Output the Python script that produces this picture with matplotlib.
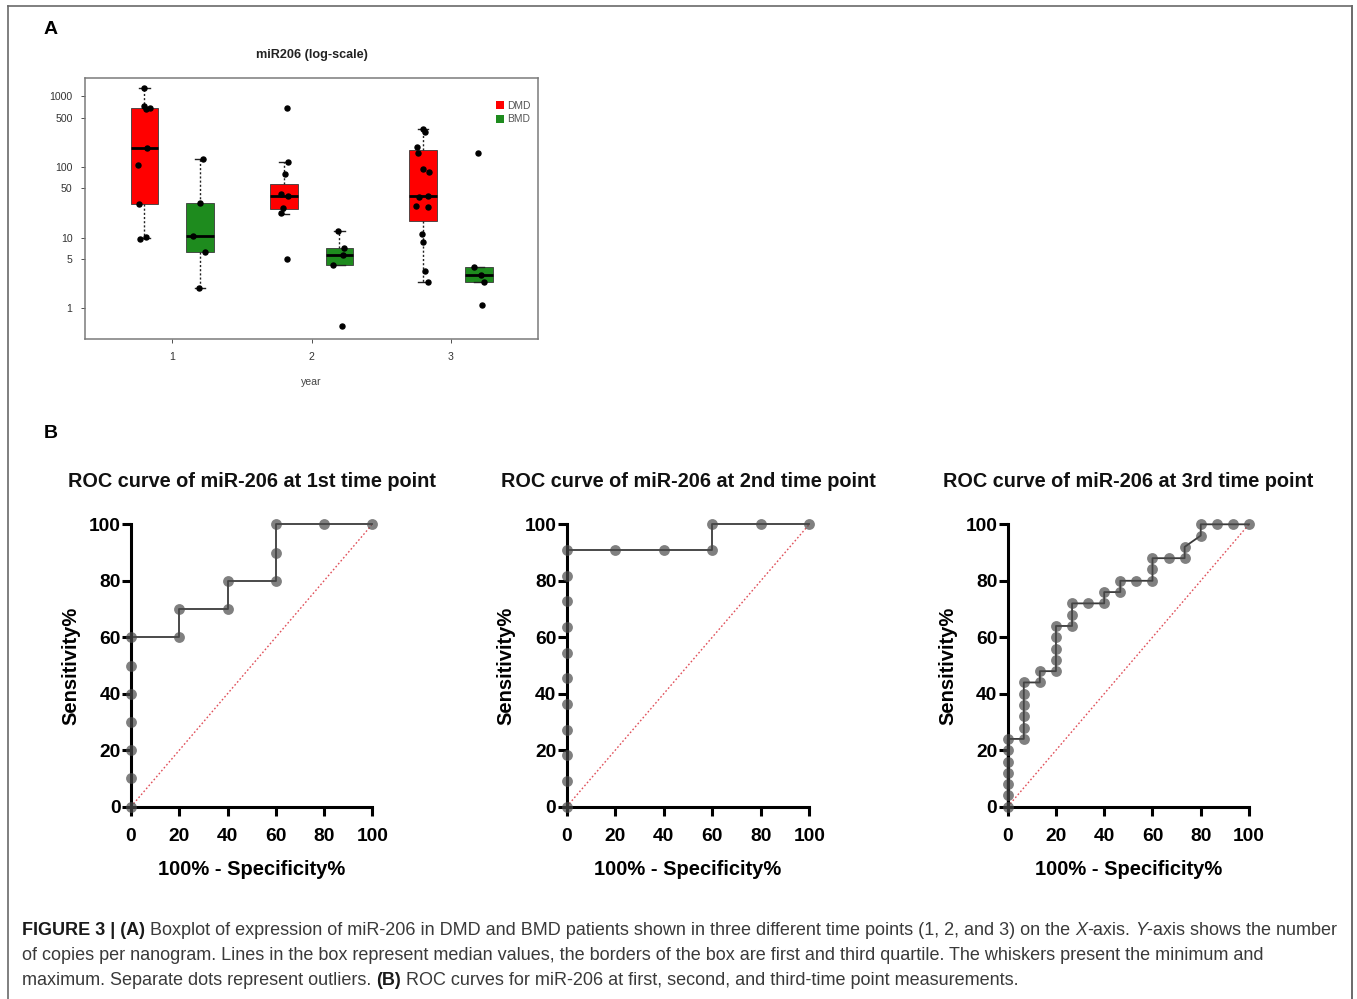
import matplotlib
matplotlib.use('Agg')
import matplotlib.pyplot as plt
from matplotlib.lines import Line2D
from matplotlib.patches import Patch

plt.rcParams['font.family'] = ['Liberation Sans', 'DejaVu Sans']

W, H = 1357, 999
fig = plt.figure(figsize=(W / 100, H / 100), dpi=100)

# ---------------- data: panel A (boxplot, log scale) ----------------
years = [1, 2, 3]
year_labels = ['1', '2', '3']
groups = ['DMD', 'BMD']
group_colors = ['#FF0000', '#1E8B1E']

dmd_q1 = [29.6, 25.5, 17.2]
dmd_med = [184, 38.9, 38.9]
dmd_q3 = [676, 57.5, 174]
dmd_whislo = [9.9, 21.6, 2.36]
dmd_whishi = [1327, 118, 345]

bmd_q1 = [6.34, 4.06, 2.38]
bmd_med = [10.4, 5.62, 2.93]
bmd_q3 = [31.3, 7.14, 3.89]
bmd_whislo = [1.96, 4.06, 2.38]
bmd_whishi = [128, 12.6, 3.89]

# individual measurements per year (values) and their horizontal jitter
dmd_pts = [
    [1327, 730, 662, 676, 184, 107, 29.6, 9.68, 10.2],
    [676, 118, 80.5, 41.1, 38.9, 26.6, 22.1, 4.99],
    [345, 309, 194, 160, 93.6, 85.9, 38.0, 39.3, 28.4, 27.5, 11.1, 8.8, 3.34, 2.36],
]
dmd_jit = [
    [0.0, -0.006, 0.008, 0.042, 0.018, -0.047, -0.037, -0.030, 0.008],
    [0.020, 0.028, 0.008, -0.018, 0.032, -0.008, -0.023, 0.020],
    [-0.002, 0.017, -0.045, -0.038, -0.002, 0.043, -0.029, 0.033, -0.050, 0.038,
     -0.007, -0.002, 0.017, 0.033],
]
bmd_pts = [
    [128, 31.3, 10.4, 6.27, 1.96],
    [12.6, 7.14, 5.62, 4.06, 0.562],
    [160, 3.89, 2.93, 2.38, 1.11],
]
bmd_jit = [
    [0.020, 0.001, -0.051, 0.032, -0.008],
    [-0.010, 0.033, 0.026, -0.045, 0.017],
    [-0.006, -0.037, 0.016, 0.039, 0.023],
]
log_ticks = [1, 5, 10, 50, 100, 500, 1000]

# ---------------- data: panel B (ROC curves) ----------------
roc_titles = ['ROC curve of miR-206 at 1st time point',
              'ROC curve of miR-206 at 2nd time point',
              'ROC curve of miR-206 at 3rd time point']
roc1_fpr = [0, 0, 0, 0, 0, 0, 0, 20, 20, 40, 40, 60, 60, 60, 80, 100]
roc1_tpr = [0, 10, 20, 30, 40, 50, 60, 60, 70, 70, 80, 80, 90, 100, 100, 100]
roc2_fpr = [0, 0, 0, 0, 0, 0, 0, 0, 0, 0, 0, 20, 40, 60, 60, 80, 100]
roc2_tpr = [0, 9.09, 18.18, 27.27, 36.36, 45.45, 54.55, 63.64, 72.73, 81.82, 90.91,
            90.91, 90.91, 90.91, 100, 100, 100]
roc3_fpr = [0, 0, 0, 0, 0, 0, 0, 6.67, 6.67, 6.67, 6.67, 6.67, 6.67, 13.33, 13.33,
            20, 20, 20, 20, 20, 26.67, 26.67, 26.67, 33.33, 40, 40, 46.67, 46.67,
            53.33, 60, 60, 60, 66.67, 73.33, 73.33, 80, 80, 86.67, 93.33, 100]
roc3_tpr = [0, 4, 8, 12, 16, 20, 24, 24, 28, 32, 36, 40, 44, 44, 48, 48, 52, 56, 60,
            64, 64, 68, 72, 72, 72, 76, 76, 80, 80, 80, 84, 88, 88, 88, 92, 96, 100,
            100, 100, 100]
roc_ticks = [0, 20, 40, 60, 80, 100]


def fx(px):
    return px / W


def fy(py):
    return 1 - py / H


# ---------------- outer frame ----------------
frame_c = '#6a6a6a'
fig.add_artist(Line2D([fx(8), fx(8)], [fy(6), 0], color=frame_c, lw=1.2))
fig.add_artist(Line2D([fx(8), fx(1352)], [fy(6), fy(6)], color=frame_c, lw=1.2))
fig.add_artist(Line2D([fx(1352), fx(1352)], [fy(6), 0], color=frame_c, lw=1.4))

# panel letters
fig.text(fx(51), fy(30), 'A', fontsize=14, fontweight='bold', ha='center', va='center')
fig.text(fx(51), fy(433), 'B', fontsize=14, fontweight='bold', ha='center', va='center')

# ---------------- panel A ----------------
axA = fig.add_axes([fx(85), fy(339), fx(538) - fx(85), fy(77.7) - fy(339)])
axA.set_yscale('log')
off = [-0.2, 0.2]
for gi, (q1, med, q3, lo, hi, pts, jit) in enumerate([
        (dmd_q1, dmd_med, dmd_q3, dmd_whislo, dmd_whishi, dmd_pts, dmd_jit),
        (bmd_q1, bmd_med, bmd_q3, bmd_whislo, bmd_whishi, bmd_pts, bmd_jit)]):
    stats = [dict(med=med[i], q1=q1[i], q3=q3[i], whislo=lo[i], whishi=hi[i], fliers=[])
             for i in range(len(years))]
    pos = [y + off[gi] for y in years]
    axA.bxp(stats, positions=pos, widths=0.2, capwidths=0.075, patch_artist=True,
            showfliers=False,
            boxprops=dict(facecolor=group_colors[gi], edgecolor='#3a3a3a', lw=0.6),
            medianprops=dict(color='black', lw=2.0, solid_capstyle='butt'),
            whiskerprops=dict(color='#222222', lw=1.0, ls=(0, (1.5, 1.5))),
            capprops=dict(color='#222222', lw=1.0))
    for i in range(len(years)):
        xs = [pos[i] + j for j in jit[i]]
        axA.plot(xs, pts[i], 'o', color='black', ms=3.6, zorder=5)

axA.set_xlim(0.373, 3.625)
axA.set_ylim(0.368, 1833)
axA.set_xticks(years)
axA.set_xticklabels(year_labels)
axA.set_yticks(log_ticks)
axA.set_yticklabels([str(t) for t in log_ticks])
axA.minorticks_off()
axA.tick_params(axis='both', labelsize=7.6, colors='#333333', length=3, width=0.6, pad=6)
for sp in axA.spines.values():
    sp.set_color('#7a7a7a')
    sp.set_linewidth(1.1)
axA.set_xlabel('year', fontsize=7.6, color='#444444', labelpad=11)
axA.text(0.5, 1.075, 'miR206 (log-scale)', transform=axA.transAxes, ha='center',
         va='baseline', fontsize=9.1, fontweight='bold', color='#222222')
handles = [Patch(facecolor=c, edgecolor='none', label=g) for g, c in zip(groups, group_colors)]
leg = axA.legend(handles=handles, loc='upper right', bbox_to_anchor=(1.0, 0.94),
                 frameon=False, fontsize=7.4, handlelength=0.8, handleheight=0.8,
                 handletextpad=0.3, labelspacing=0.35, borderaxespad=0.3)
for t in leg.get_texts():
    t.set_color('#555555')

# ---------------- panel B ----------------
roc_data = [(roc1_fpr, roc1_tpr), (roc2_fpr, roc2_tpr), (roc3_fpr, roc3_tpr)]
roc_left = [131, 566.7, 1007.7]
roc_width = [241.3, 242.6, 241.3]
for k, ((fpr, tpr), title) in enumerate(zip(roc_data, roc_titles)):
    ax = fig.add_axes([fx(roc_left[k]), fy(806.7), roc_width[k] / W, (806.7 - 524.3) / H])
    ax.plot([0, 100], [0, 100], color='#e0505a', lw=1.0, ls=(0, (1.2, 1.6)), zorder=1)
    ax.plot(fpr, tpr, '-', color='#3a3a3a', lw=1.3, zorder=2, clip_on=False)
    ax.plot(fpr, tpr, 'o', color='#4a4a4a', alpha=0.7, ms=7.8, mew=0, zorder=3,
            clip_on=False)
    ax.set_xlim(0, 100)
    ax.set_ylim(0, 100)
    ax.set_xticks(roc_ticks)
    ax.set_yticks(roc_ticks)
    for s in ['top', 'right']:
        ax.spines[s].set_visible(False)
    for s in ['left', 'bottom']:
        ax.spines[s].set_linewidth(2.2)
        ax.spines[s].set_color('black')
    ax.tick_params(axis='both', length=6.5, width=2.2, labelsize=13.8, colors='black')
    ax.tick_params(axis='y', pad=1)
    ax.tick_params(axis='x', pad=8.5)
    for lab in ax.get_xticklabels() + ax.get_yticklabels():
        lab.set_fontweight('bold')
    ax.set_xlabel('100% - Specificity%', fontsize=14.5, fontweight='bold')
    ax.set_ylabel('Sensitivity%', fontsize=14.5, fontweight='bold')
    ax.xaxis.set_label_coords(0.5, -0.19)
    ax.yaxis.set_label_coords(-0.21, 0.5)
    ax.text(0.5, 1.132, title, transform=ax.transAxes, ha='center', va='baseline',
            fontsize=14.3, fontweight='bold', color='#111111')

# ---------------- caption ----------------
cap_lines = [
    [('FIGURE 3 | (A)', 'bold', 'normal'), None,
     ('Boxplot of expression of miR-206 in DMD and BMD patients shown in three different '
      'time points (1, 2, and 3) on the', 'normal', 'normal'), None,
     ('X', 'normal', 'italic'), ('-axis.', 'normal', 'normal'), None,
     ('Y', 'normal', 'italic'), ('-axis shows the number', 'normal', 'normal')],
    [('of copies per nanogram. Lines in the box represent median values, the borders of the '
      'box are first and third quartile. The whiskers present the minimum and',
      'normal', 'normal')],
    [('maximum. Separate dots represent outliers.', 'normal', 'normal'), None,
     ('(B)', 'bold', 'normal'), None,
     ('ROC curves for miR-206 at first, second, and third-time point measurements.',
      'normal', 'normal')],
]
cap_base = [935, 960, 985]
renderer = fig.canvas.get_renderer()


def draw_line(pieces, x0, base, size):
    arts = []
    x = x0
    probe = fig.text(0, 0, 'a a', fontsize=size)
    probe2 = fig.text(0, 0, 'aa', fontsize=size)
    sp = probe.get_window_extent(renderer).width - probe2.get_window_extent(renderer).width
    probe.remove()
    probe2.remove()
    for p in pieces:
        if p is None:
            x += sp
            continue
        txt, wt, st = p
        col = '#1a1a1a' if wt == 'bold' else '#3a3a3a'
        t = fig.text(fx(x), fy(base), txt, fontsize=size, fontweight=wt, fontstyle=st,
                     ha='left', va='baseline', color=col)
        x = t.get_window_extent(renderer).x1
        arts.append(t)
    return arts, x - x0


size0 = 11.0
arts, width0 = draw_line(cap_lines[0], 22, cap_base[0], size0)
for a in arts:
    a.remove()
cap_size = size0 * 1310 / width0
for pieces, base in zip(cap_lines, cap_base):
    draw_line(pieces, 22, base, cap_size)

fig.savefig('out.png', dpi=100)
